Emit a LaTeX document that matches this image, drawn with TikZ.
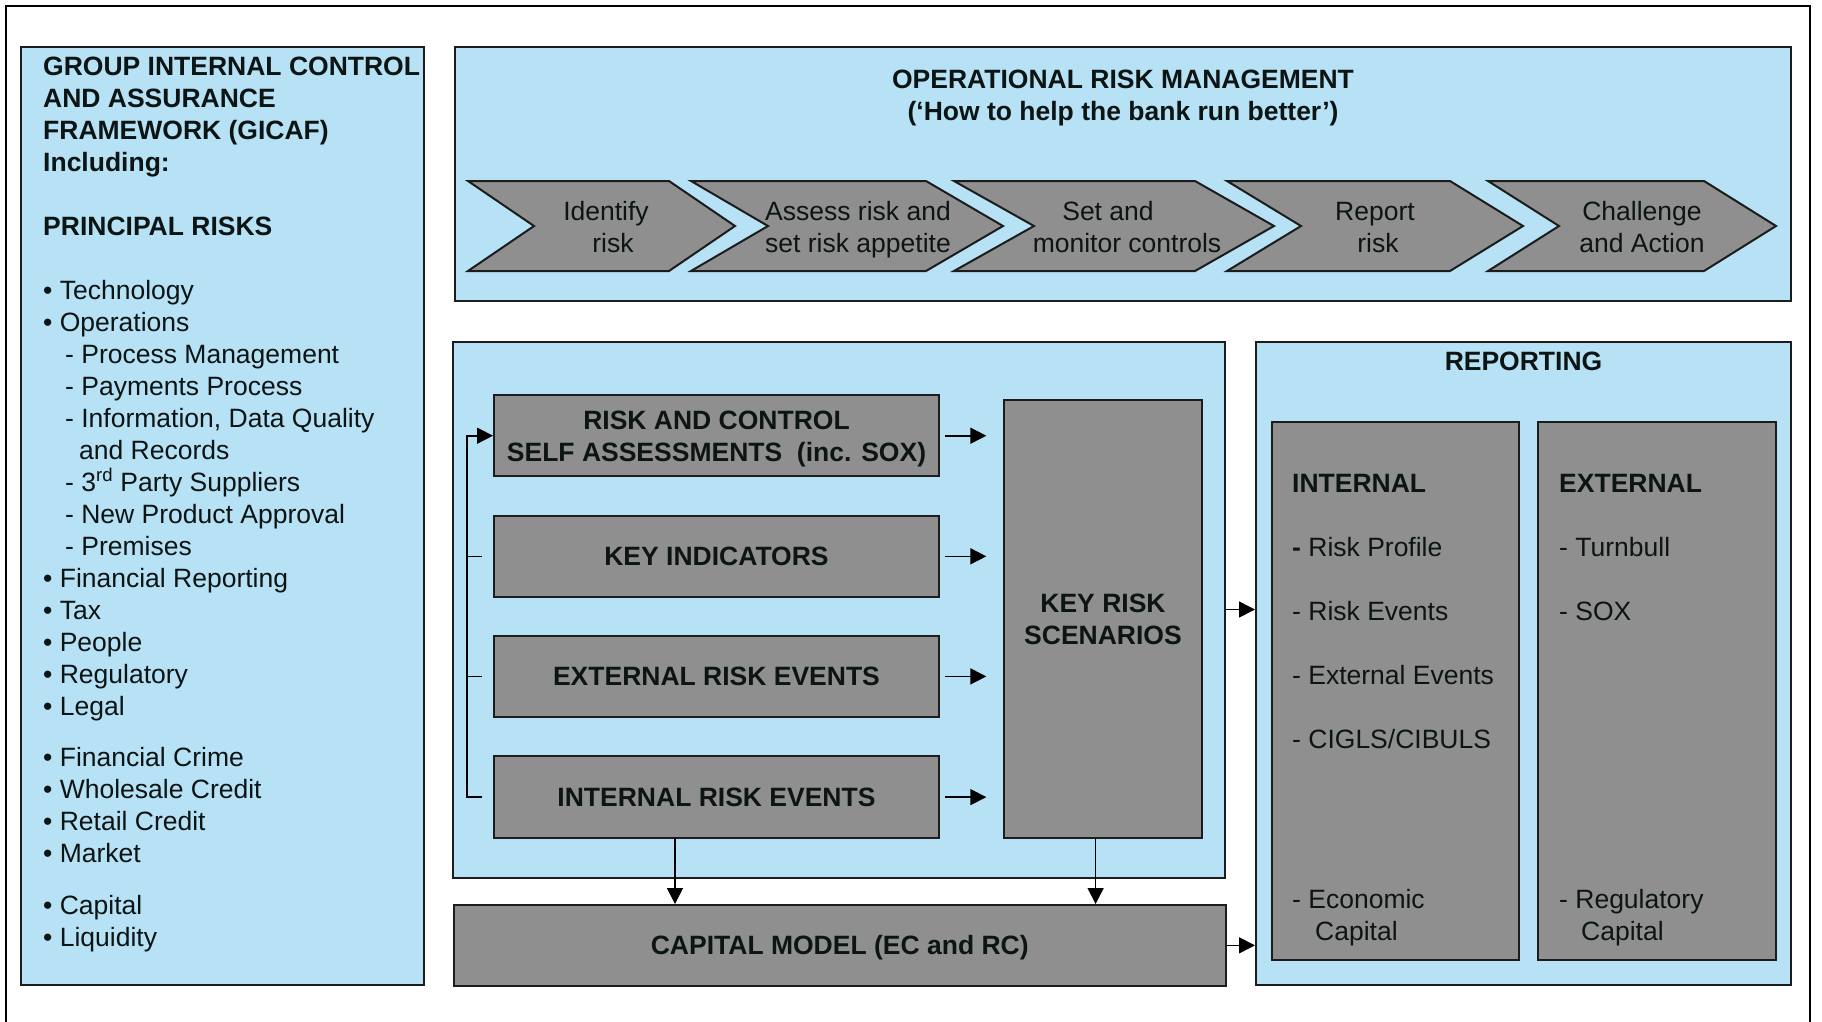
\documentclass[tikz,border=0pt]{standalone}
\usepackage{fontspec}
\setmainfont{Liberation Sans}
\usetikzlibrary{arrows.meta,calc}

\definecolor{paleblue}{RGB}{183,226,246}
\definecolor{boxgray}{RGB}{143,143,143}
\definecolor{ink}{RGB}{12,20,20}
\definecolor{edge}{RGB}{28,28,28}

\newcommand{\basefont}{\fontsize{26.5}{32}\selectfont}
\newcommand{\twoline}[2]{\begin{tabular}[t]{@{}c@{}}#1\\#2\end{tabular}}

\begin{document}
\begin{tikzpicture}[
  x=1pt, y=-1pt,
  font=\basefont, text=ink,
  frame/.style={draw=black, line width=2pt},
  panel/.style={draw=edge, line width=2pt, fill=paleblue, inner sep=0pt},
  gbox/.style={draw=edge, line width=2pt, fill=boxgray, inner sep=0pt,
    font=\basefont\bfseries, text height=19pt, text depth=0pt, align=center},
  gbox2/.style={gbox, text depth=32pt},
  chev/.style={draw=edge, line width=2pt, fill=boxgray, line join=miter},
  label/.style={inner sep=0pt},
  conn/.style={draw=black, line width=1.6pt},
  arr/.style={conn, -{Triangle[length=16pt,width=16pt]}}
]
\useasboundingbox (0,0) rectangle (1822,1021);

% outer frame (its lower edge lies below the page)
\draw[frame] (6,1030) -- (6,6) -- (1810,6) -- (1810,1030);

% ---------- panels ----------
\node[panel, minimum width=403pt, minimum height=938pt] (gicaf) at (222.5,516) {};
\node[panel, minimum width=1336pt, minimum height=254pt] (orm) at (1123,174) {};
\node[panel, minimum width=772pt, minimum height=536pt] (midpanel) at (839,609.5) {};
\node[panel, minimum width=535pt, minimum height=643.5pt] (reporting) at (1523.5,663.25) {};

% ---------- principal risks list ----------
\node[label, anchor=base west] (risklist) at (43,75) {\parbox[t]{392pt}{\raggedright
\textbf{GROUP INTERNAL CONTROL}\\
\textbf{AND ASSURANCE}\\
\textbf{FRAMEWORK (GICAF)}\\
\textbf{Including:}\\[32pt]
\textbf{PRINCIPAL RISKS}\\[32pt]
• Technology\\
• Operations\\
\hspace*{22pt}- Process Management\\
\hspace*{22pt}- Payments Process\\
\hspace*{22pt}- Information, Data Quality\\
\hspace*{36pt}and Records\\
\hspace*{22pt}- 3\textsuperscript{rd} Party Suppliers\\
\hspace*{22pt}- New Product Approval\\
\hspace*{22pt}- Premises\\
• Financial Reporting\\
• Tax\\
• People\\
• Regulatory\\
• Legal\\[19.5pt]
• Financial Crime\\
• Wholesale Credit\\
• Retail Credit\\
• Market\\[20pt]
• Capital\\
• Liquidity}};

% ---------- operational risk management process ----------
\node[label, anchor=base, font=\basefont\bfseries] (ormtitle) at (1123,88)
  {\twoline{OPERATIONAL RISK MANAGEMENT}{(‘How to help the bank run better’)}};

\draw[chev] (468,181) -- (669,181) -- (735,226) -- (669,271) -- (468,271) -- (534,226) -- cycle;
\draw[chev] (691,181) -- (926,181) -- (1003,226) -- (926,271) -- (691,271) -- (768,226) -- cycle;
\draw[chev] (954,181) -- (1195,181) -- (1274,226) -- (1195,271) -- (954,271) -- (1034,226) -- cycle;
\draw[chev] (1227,181) -- (1450,181) -- (1523,226) -- (1450,271) -- (1227,271) -- (1301,226) -- cycle;
\draw[chev] (1488,181) -- (1704,181) -- (1776,226) -- (1704,271) -- (1488,271) -- (1559,226) -- cycle;

\node[label, anchor=base] (step1) at (606,220) {\twoline{Identify}{\kern14pt risk}};
\node[label, anchor=base] (step2) at (858,220) {\twoline{Assess risk and}{set risk appetite}};
\node[label, anchor=base] (step3) at (1127,220) {\twoline{Set and\kern38pt}{monitor controls}};
\node[label, anchor=base] (step4) at (1375,220) {\twoline{Report}{\kern6pt risk}};
\node[label, anchor=base] (step5) at (1642,220) {\twoline{Challenge}{and Action}};

% ---------- inputs and scenarios ----------
\node[gbox2, minimum width=445pt, minimum height=81.4pt] (rcsa) at (716.5,435.7)
  {\twoline{RISK AND CONTROL}{SELF ASSESSMENTS\ \ (inc. SOX)}};
\node[gbox, minimum width=445pt, minimum height=81.4pt] (ki) at (716.5,556.3) {KEY INDICATORS};
\node[gbox, minimum width=445pt, minimum height=81.4pt] (ere) at (716.5,676.4) {EXTERNAL RISK EVENTS};
\node[gbox, minimum width=445pt, minimum height=81.4pt] (ire) at (716.5,797.1) {INTERNAL RISK EVENTS};
\node[gbox2, minimum width=197.4pt, minimum height=438.3pt] (krs) at (1103,618.75)
  {\twoline{KEY RISK}{SCENARIOS}};
\node[gbox, minimum width=772.5pt, minimum height=80.7pt] (capital) at (839.75,945.35)
  {CAPITAL MODEL (EC and RC)};

% ---------- reporting ----------
\node[label, anchor=base, font=\basefont\bfseries] (reptitle) at (1523.5,370) {REPORTING};
\node[gbox, minimum width=247.5pt, minimum height=537.7pt] (intbox) at (1395.25,690.75) {};
\node[gbox, minimum width=237.7pt, minimum height=537.7pt] (extbox) at (1657.15,690.75) {};

\node[label, anchor=base west] (intlist) at (1292,492) {\parbox[t]{222pt}{\raggedright
\textbf{INTERNAL}\\[32pt]
\textbf{-} Risk Profile\\[32pt]
- Risk Events\\[32pt]
- External Events\\[32pt]
- CIGLS/CIBULS}};
\node[label, anchor=base west] (intcap) at (1292,908.5) {\parbox[t]{222pt}{\raggedright
- Economic\\
\hspace*{23pt}Capital}};
\node[label, anchor=base west] (extlist) at (1559,492) {\parbox[t]{212pt}{\raggedright
\textbf{EXTERNAL}\\[32pt]
- Turnbull\\[32pt]
- SOX}};
\node[label, anchor=base west] (extcap) at (1559,908.5) {\parbox[t]{212pt}{\raggedright
- Regulatory\\
\hspace*{22pt}Capital}};

% ---------- connectors ----------
\foreach \b in {rcsa,ki,ere,ire}
  \draw[arr] ([xshift=5pt]\b.east) -- ($(\b.east -| krs.west)+(-17,0)$);

\draw[arr] ([xshift=-11pt]ire.west) -- ++(-15,0) |- (rcsa.west);
\foreach \b in {ki,ere}
  \draw[conn] ([xshift=-11pt]\b.west) -- ++(-15,0);

\coordinate (drop1) at ([xshift=-41.5pt]ire.south);
\coordinate (drop2) at ([xshift=-7.4pt]krs.south);
\draw[arr] (drop1) -- (drop1 |- capital.north);
\draw[arr] (drop2) -- (drop2 |- capital.north);

\draw[arr] (midpanel.east) -- (midpanel.east -| reporting.west);
\draw[arr] (capital.east) -- (capital.east -| reporting.west);
\end{tikzpicture}
\end{document}
